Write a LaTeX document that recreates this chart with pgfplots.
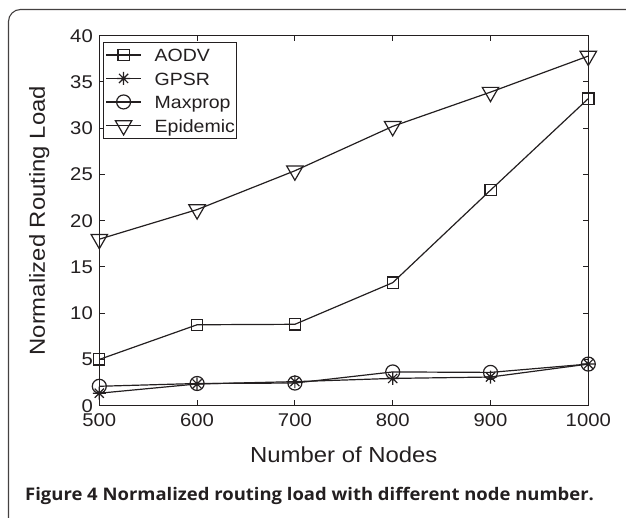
\documentclass[border=0pt]{standalone}
\usepackage{fontspec}
\setmainfont{Liberation Sans}[FakeStretch=1.1]
\newfontfamily\capfont{Open Sans}[FakeStretch=1.065]
\usepackage{pgfplots}
\pgfplotsset{compat=1.18}

\definecolor{ink}{HTML}{231F20}

% matlab-style '*' marker: plus and cross together
\pgfdeclareplotmark{mstar}{%
  \pgfpathmoveto{\pgfqpoint{-\pgfplotmarksize}{0pt}}%
  \pgfpathlineto{\pgfqpoint{\pgfplotmarksize}{0pt}}%
  \pgfpathmoveto{\pgfqpoint{0pt}{-\pgfplotmarksize}}%
  \pgfpathlineto{\pgfqpoint{0pt}{\pgfplotmarksize}}%
  \pgfpathmoveto{\pgfqpoint{-0.707\pgfplotmarksize}{-0.707\pgfplotmarksize}}%
  \pgfpathlineto{\pgfqpoint{0.707\pgfplotmarksize}{0.707\pgfplotmarksize}}%
  \pgfpathmoveto{\pgfqpoint{-0.707\pgfplotmarksize}{0.707\pgfplotmarksize}}%
  \pgfpathlineto{\pgfqpoint{0.707\pgfplotmarksize}{-0.707\pgfplotmarksize}}%
  \pgfusepathqstroke}

\begin{document}
\begin{tikzpicture}
\path[use as bounding box] (-99.3bp,-112.3bp) rectangle (526.7bp,405.7bp);

% panel frame (open at right and bottom)
\draw[line width=1.1bp, color=ink!85, rounded corners=12bp]
  (-90.8bp,-115bp) -- (-90.8bp,396.2bp) -- (530bp,396.2bp);

\begin{axis}[
    at={(0,0)}, anchor=south west,
    scale only axis,
    width=489bp, height=370bp,
    xmin=500, xmax=1000, ymin=0, ymax=40,
    xtick={500,600,...,1000}, ytick={0,5,...,40},
    tick align=inside, major tick length=5.5bp,
    axis line style={line width=1bp, color=ink},
    every tick/.style={line width=0.9bp, color=ink},
    /pgf/number format/assume math mode=true,
    /pgf/number format/1000 sep={},
    ticklabel style={font=\fontsize{18.5}{20}\selectfont, color=ink},
    xticklabel style={yshift=-4.5bp},
    yticklabel style={xshift=-3bp},
    xlabel={Number of Nodes},
    ylabel={Normalized Routing Load},
    label style={font=\fontsize{21.8}{24}\selectfont, color=ink},
    xlabel style={yshift=-13.5bp},
    ylabel style={yshift=14bp},
    legend style={
        at={(0,1)}, anchor=north west, xshift=4bp, yshift=-6bp,
        draw=ink, line width=1bp,
        font=\fontsize{17.8}{20}\selectfont, text=ink,
        inner xsep=1.7bp, inner ysep=1bp,
        nodes={inner xsep=0bp, inner ysep=3bp, text height=15.5bp, text depth=2bp},
        column sep=13bp,
        legend cell align=left,
    },
    legend image code/.code={
        \draw[mark repeat=2, mark phase=2]
        plot coordinates {(0bp,0bp) (17.5bp,0bp) (35bp,0bp)};
    },
]
\addplot[color=ink, line width=1.2bp, mark=square, mark size=5.6bp,
         mark options={solid, line width=1.2bp}] coordinates {
    (500,5.0) (600,8.75) (700,8.8) (800,13.3) (900,23.3) (1000,33.2)
};
\addplot[color=ink, line width=1.2bp, mark=mstar, mark size=6.5bp,
         mark options={solid, line width=1.2bp}] coordinates {
    (500,1.35) (600,2.35) (700,2.6) (800,2.95) (900,3.1) (1000,4.5)
};
\addplot[color=ink, line width=1.2bp, mark=o, mark size=7bp,
         mark options={solid, line width=1.2bp}] coordinates {
    (500,2.1) (600,2.4) (700,2.45) (800,3.65) (900,3.6) (1000,4.5)
};
\addplot[color=ink, line width=1.2bp, mark=triangle, mark size=9.5bp,
         mark options={solid, line width=1.2bp, rotate=180}] coordinates {
    (500,18.0) (600,21.2) (700,25.4) (800,30.2) (900,33.9) (1000,37.8)
};
\legend{AODV, GPSR, Maxprop, Epidemic}
\end{axis}

\node[anchor=base west, inner sep=0pt, text=ink,
      font=\capfont\bfseries\fontsize{17.4}{19}\selectfont]
  at (-74.3bp,-95bp) {Figure 4 Normalized routing load with different node number.};
\end{tikzpicture}
\end{document}
